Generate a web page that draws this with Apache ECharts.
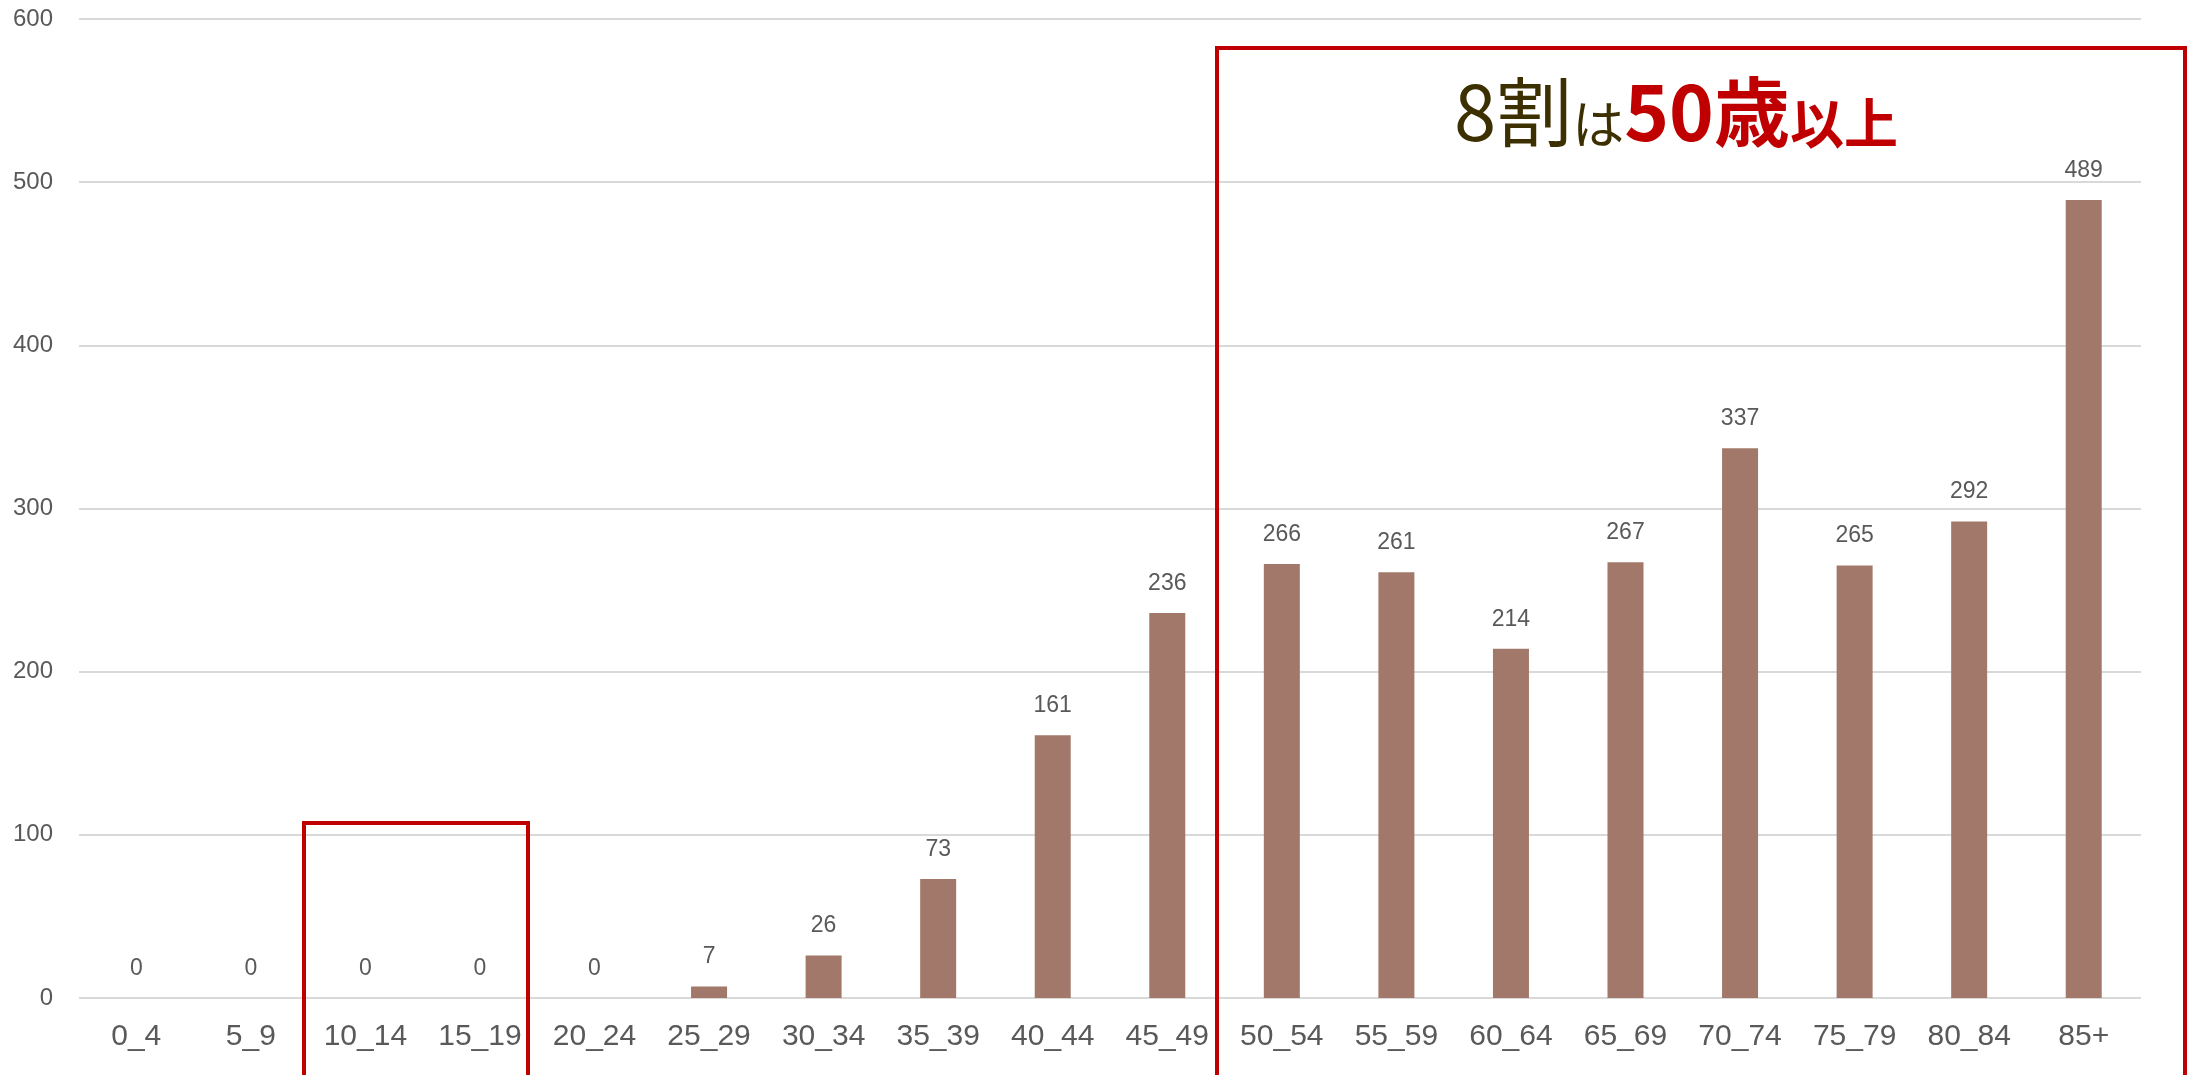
<!DOCTYPE html>
<html>
<head>
<meta charset="utf-8">
<style>
  html, body { margin: 0; padding: 0; background: #fff; }
  #chart { width: 2200px; height: 1075px; }
</style>
<script src="https://cdn.jsdelivr.net/npm/echarts@6/dist/echarts.min.js"></script>
</head>
<body>
<div id="chart"></div>
<script>
// Age groups (5-year bands) and counts per band
const ageGroups = ['0_4', '5_9', '10_14', '15_19', '20_24', '25_29', '30_34', '35_39', '40_44',
  '45_49', '50_54', '55_59', '60_64', '65_69', '70_74', '75_79', '80_84', '85+'];
const counts = [0, 0, 0, 0, 0, 7, 26, 73, 161, 236, 266, 261, 214, 267, 337, 265, 292, 489];
const yTicks = { min: 0, max: 600, interval: 100 };

const LATIN = '"Liberation Sans", "Noto Sans CJK JP", sans-serif';
const JP = '"Noto Sans CJK JP", sans-serif';
const GREY = '#595959';
const RED = '#C00000';
const DARK = '#3D3000';

const chart = echarts.init(document.getElementById('chart'), null, { renderer: 'canvas' });

chart.setOption({
  animation: false,
  backgroundColor: '#ffffff',
  grid: { left: 79, right: 59, top: 19, bottom: 77, containLabel: false },
  xAxis: {
    type: 'category',
    data: ageGroups,
    axisLine: { show: false },
    axisTick: { show: false },
    axisLabel: { color: GREY, fontSize: 30, fontFamily: LATIN, margin: 24 }
  },
  yAxis: {
    type: 'value',
    min: yTicks.min,
    max: yTicks.max,
    interval: yTicks.interval,
    axisLine: { show: false },
    axisTick: { show: false },
    axisLabel: { color: GREY, fontSize: 24, fontFamily: LATIN, margin: 26 },
    splitLine: { lineStyle: { color: '#D9D9D9', width: 2 } }
  },
  series: [{
    type: 'bar',
    data: counts,
    barWidth: 36,
    itemStyle: { color: '#A1786A' },
    label: {
      show: true,
      position: 'top',
      distance: 18,
      color: GREY,
      fontSize: 23,
      fontFamily: LATIN
    }
  }],
  graphic: [
    // highlight frame around the 10-19 age bands
    {
      type: 'rect',
      shape: { x: 304, y: 823, width: 224, height: 260 },
      style: { fill: 'none', stroke: RED, lineWidth: 4 },
      z: 100
    },
    // highlight frame around the 50+ age bands
    {
      type: 'rect',
      shape: { x: 1217, y: 48, width: 968, height: 1040 },
      style: { fill: 'none', stroke: RED, lineWidth: 4 },
      z: 100
    },
    {
      type: 'text',
      x: 1676,
      y: 150,
      z: 101,
      style: {
        text: '{a|8割}{b|は}{c|50歳}{d|以上}',
        align: 'center',
        verticalAlign: 'bottom',
        rich: {
          a: { fontSize: 76, fontFamily: JP, fill: DARK, fontWeight: 'normal', verticalAlign: 'bottom', lineHeight: 90 },
          b: { fontSize: 52, fontFamily: JP, fill: DARK, fontWeight: 'normal', verticalAlign: 'bottom', lineHeight: 90 },
          c: { fontSize: 76, fontFamily: JP, fill: RED, fontWeight: 'bold', verticalAlign: 'bottom', lineHeight: 90 },
          d: { fontSize: 54, fontFamily: JP, fill: RED, fontWeight: 'bold', verticalAlign: 'bottom', lineHeight: 90 }
        }
      }
    }
  ]
});
</script>
</body>
</html>
